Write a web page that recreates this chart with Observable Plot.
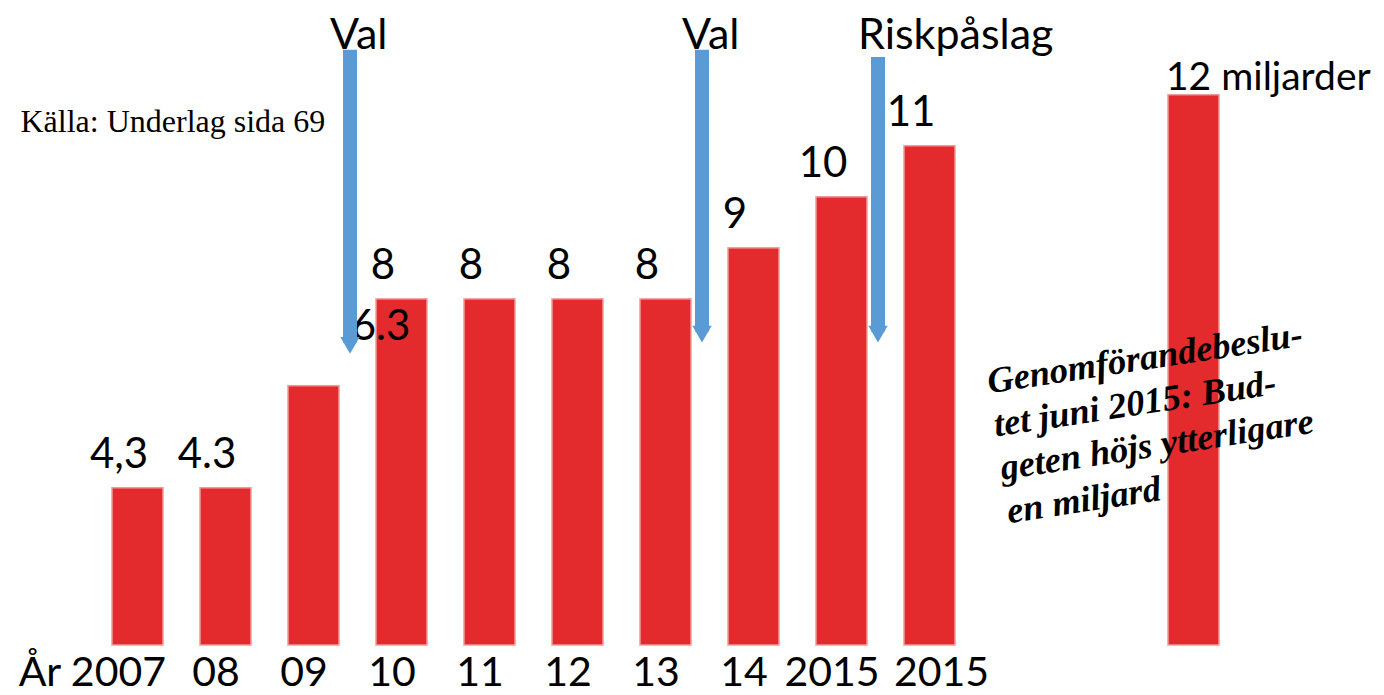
<!DOCTYPE html>
<html>
<head>
<meta charset="utf-8">
<script src="https://cdn.jsdelivr.net/npm/d3@7"></script>
<script src="https://cdn.jsdelivr.net/npm/@observablehq/plot@0.6"></script>
<style>
  html, body { margin: 0; padding: 0; background: #ffffff; }
  #chart { width: 1384px; height: 695px; overflow: hidden; }
</style>
</head>
<body>
<div id="chart"></div>
<script>
// ---- data ----
const years = ["2007", "2008", "2009", "2010", "2011", "2012", "2013", "2014", "2015a", "2015b", "2015c"];
const tickLabels = ["År 2007", "08", "09", "10", "11", "12", "13", "14", "2015", "2015", ""];
const values = [4.3, 4.3, 6.3, 8, 8, 8, 8, 9, 10, 11, 12];
const valueLabels = ["4,3", "4.3", "6.3", "8", "8", "8", "8", "9", "10", "11", "12 miljarder"];
const spacers = ["gap1", "gap2"];

const events = ["Val", "Val", "Riskpåslag"];
const eventAfter = ["2009", "2013", "2015a"];
const arrowTop = [12.88, 12.88, 12.74];
const arrowTip = [6.94, 7.16, 7.16];

const source = "Källa: Underlag sida 69";
const note = "Genomförandebeslu-\ntet juni 2015: Bud-\ngeten höjs ytterligare\nen miljard";

// ---- tables built from the arrays ----
const bars = years.map((k, i) => ({key: k, value: values[i], label: valueLabels[i], tick: tickLabels[i]}));
const xDomain = [...years.slice(0, 10), ...spacers, years[10]];
const yMin = 1.22, yMax = 13.855;
const ev = events.map((e, i) => ({label: e, key: eventAfter[i], top: arrowTop[i], tip: arrowTip[i]}));

const RED = "#e32b2e";
const BLUE = "#5b9bd5";
const SANS = "Lato, 'Open Sans', sans-serif";
const SERIF = "'Liberation Serif', 'Times New Roman', serif";

const plainBars = bars.filter(d => d.key !== "2009" && d.key !== "2015c");
const midTicks = bars.filter(d => d.key !== "2007" && d.key !== "2015b" && d.key !== "2015c");

const chart = Plot.plot({
  width: 1384,
  height: 695,
  marginTop: 0, marginRight: 0, marginBottom: 0, marginLeft: 0,
  style: {background: "#ffffff", fontFamily: SANS, overflow: "visible"},
  x: {type: "band", domain: xDomain, range: [68.7, 1260.9], padding: 0.4257, axis: null},
  y: {domain: [yMin, yMax], range: [645, 0], axis: null},
  marks: [
    // bars
    Plot.barY(bars, {x: "key", y1: yMin, y2: "value", fill: RED, stroke: "#ef9a9c", strokeWidth: 1.5}),
    // value labels
    Plot.text(plainBars, {x: "key", y: "value", text: "label", lineAnchor: "bottom", dx: -19, dy: -20, fontSize: 42, fill: "#000"}),
    Plot.text(bars.filter(d => d.key === "2009"), {x: "key", y: "value", text: "label", lineAnchor: "bottom", dx: 67, dy: -46, fontSize: 42, fill: "#000"}),
    Plot.text(bars.filter(d => d.key === "2015c"), {x: "key", y: "value", text: "label", textAnchor: "start", lineAnchor: "bottom", dx: -28, dy: -5, fontSize: 39, fill: "#000"}),
    // tick labels
    Plot.text(bars.filter(d => d.key === "2007"), {x: "key", y: yMin, text: "tick", textAnchor: "end", lineAnchor: "bottom", dx: 28, dy: 40, fontSize: 41, fill: "#000"}),
    Plot.text(midTicks, {x: "key", y: yMin, text: "tick", lineAnchor: "bottom", dx: -10, dy: 40, fontSize: 41, fill: "#000"}),
    Plot.text(bars.filter(d => d.key === "2015b"), {x: "key", y: yMin, text: "tick", textAnchor: "start", lineAnchor: "bottom", dx: -36, dy: 40, fontSize: 41, fill: "#000"}),
    // event arrows
    Plot.ruleX(ev, {x: "key", y1: d => d.tip + 0.2, y2: "top", dx: 36, stroke: BLUE, strokeWidth: 14}),
    Plot.dot(ev, {x: "key", y: "tip", dx: 36, dy: -11, symbol: "triangle", rotate: 180, r: 7.2, fill: BLUE, stroke: "none"}),
    Plot.text(ev, {x: "key", frameAnchor: "top", text: "label", textAnchor: "start", lineAnchor: "bottom", dx: 16, dy: 48, fontSize: 43, fill: "#000"}),
    // source
    Plot.text([source], {frameAnchor: "top-left", text: d => d, textAnchor: "start", lineAnchor: "bottom", dx: 20, dy: 131, fontSize: 32, fontFamily: SERIF, fill: "#000"}),
    // rotated note
    Plot.text([note], {frameAnchor: "top-left", text: d => d, textAnchor: "start", lineAnchor: "top", dx: 984, dy: 362, rotate: -8.6, fontSize: 36.5, lineHeight: 1.2, fontWeight: "bold", fontStyle: "italic", fontFamily: SERIF, fill: "#000"})
  ]
});
document.getElementById("chart").appendChild(chart);
</script>
</body>
</html>
